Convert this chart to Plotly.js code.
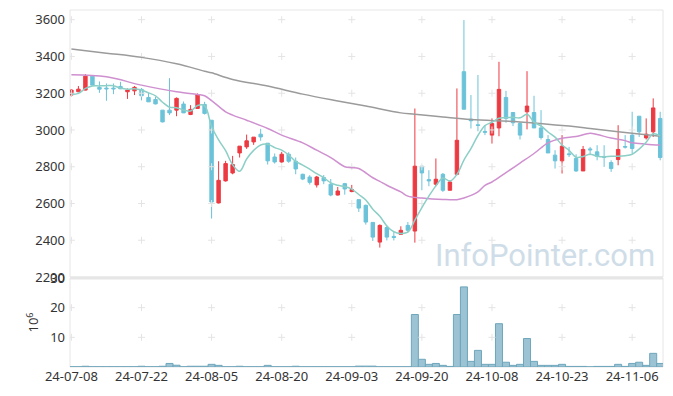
<!DOCTYPE html>
<html>
<head>
<meta charset="utf-8">
<script src="https://cdn.plot.ly/plotly-3.0.1.min.js"></script>
<style>html,body{margin:0;padding:0;background:#fff;}#chart{width:673px;height:396px;}</style>
</head>
<body>
<div id="chart"></div>
<script>
// ---- data ----
var dates = [
 '2024-07-08','2024-07-09','2024-07-10','2024-07-11','2024-07-12','2024-07-15','2024-07-16','2024-07-17','2024-07-18','2024-07-19',
 '2024-07-22','2024-07-23','2024-07-24','2024-07-25','2024-07-26','2024-07-29','2024-07-30','2024-07-31','2024-08-01','2024-08-02',
 '2024-08-05','2024-08-06','2024-08-07','2024-08-08','2024-08-09','2024-08-12','2024-08-13','2024-08-14','2024-08-16','2024-08-19',
 '2024-08-20','2024-08-21','2024-08-22','2024-08-23','2024-08-26','2024-08-27','2024-08-28','2024-08-29','2024-08-30','2024-09-02',
 '2024-09-03','2024-09-04','2024-09-05','2024-09-06','2024-09-09','2024-09-10','2024-09-11','2024-09-12','2024-09-13','2024-09-19',
 '2024-09-20','2024-09-23','2024-09-24','2024-09-25','2024-09-26','2024-09-27','2024-09-30','2024-10-02','2024-10-04','2024-10-07',
 '2024-10-08','2024-10-10','2024-10-11','2024-10-14','2024-10-15','2024-10-16','2024-10-17','2024-10-18','2024-10-21','2024-10-22',
 '2024-10-23','2024-10-24','2024-10-25','2024-10-28','2024-10-29','2024-10-30','2024-10-31','2024-11-01','2024-11-04','2024-11-05',
 '2024-11-06','2024-11-07','2024-11-08','2024-11-11','2024-11-12'
];
var openP = [3190,3208,3217,3293,3232,3228,3228,3237,3208,3213,
 3221,3177,3166,3108,3108,3108,3141,3084,3117,3139,
 3053,2603,2723,2766,2875,2908,2935,2977,2928,2853,
 2826,2868,2830,2759,2744,2701,2741,2705,2646,2708,
 2665,2621,2590,2497,2390,2469,2421,2432,2481,2450,
 2803,2730,2705,2759,2672,2759,3317,3059,3028,2992,
 2972,3011,3177,3095,3035,3099,3095,3011,2948,2863,
 2832,2870,2845,2777,2897,2881,2856,2823,2839,2910,
 2972,3075,2957,2990,3063];
var highP = [3222,3239,3304,3297,3264,3253,3253,3262,3226,3239,
 3228,3202,3180,3108,3282,3177,3155,3135,3199,3153,
 3053,2830,2832,2859,2912,2975,2961,3006,2928,2872,
 2881,2879,2850,2762,2754,2750,2755,2733,2690,2712,
 2701,2621,2594,2497,2486,2481,2445,2476,2499,3117,
 2803,2781,2845,2766,2726,3226,3598,3190,3299,3026,
 3063,3371,3213,3095,3044,3320,3186,3108,2972,2890,
 2972,2908,2868,2913,2908,2917,2917,2835,3026,2972,
 3099,3075,3063,3172,3099];
var lowP = [3182,3206,3215,3242,3202,3159,3195,3222,3169,3190,
 3161,3153,3139,3041,3081,3075,3093,3081,3117,3084,
 2518,2600,2719,2759,2850,2897,2919,2941,2812,2817,
 2822,2821,2759,2727,2703,2687,2705,2639,2643,2648,
 2661,2554,2485,2396,2360,2399,2399,2432,2445,2387,
 2672,2694,2694,2663,2672,2754,3113,3008,2993,2972,
 2926,2966,3039,3021,2948,3003,3011,2948,2875,2790,
 2763,2853,2772,2777,2863,2835,2799,2772,2808,2899,
 2872,2962,2948,2962,2835];
var closeP = [3217,3222,3293,3244,3222,3224,3224,3224,3217,3232,
 3186,3153,3142,3044,3093,3172,3093,3112,3193,3090,
 2608,2726,2817,2812,2912,2941,2961,2962,2832,2826,
 2868,2830,2788,2733,2715,2744,2723,2646,2668,2679,
 2676,2575,2499,2417,2481,2417,2415,2454,2454,2803,
 2766,2723,2732,2672,2717,2944,3113,3050,3025,2988,
 3035,3221,3063,3039,2972,3130,3011,2959,2875,2832,
 2912,2866,2777,2894,2892,2857,2852,2790,2894,2907,
 2899,2990,2977,3120,2850];
// volume, millions of shares
var volume = [0.08,0.08,0.25,0.08,0.08,0.08,0.08,0.08,0.08,0.08,
 0.25,0.08,0.08,0.25,1.2,0.6,0.08,0.25,0.25,0.25,
 0.9,0.55,0.08,0.08,0.25,0.08,0.08,0.08,0.55,0.08,
 0.08,0.08,0.25,0.08,0.08,0.08,0.08,0.08,0.08,0.08,
 0.08,0.3,0.3,0.3,0.08,0.08,0.08,0.08,0.08,17.7,
 2.6,0.9,1.2,0.55,0.2,17.7,27.0,1.9,5.6,0.9,
 0.9,14.6,1.6,0.55,0.9,9.6,1.9,0.55,0.55,0.55,
 0.9,0.2,0.2,0.2,0.05,0.2,0.2,0.2,0.9,0.2,
 1.2,1.6,0.55,4.6,1.2];
// 5-day moving average line (teal)
var ma5 = [3193,3199,3226,3239,3240,3241,3241,3228,3222,3224,
 3217,3202,3186,3151,3124,3121,3109,3103,3133,3132,
 3019,2946,2887,2811,2775,2842,2889,2918,2922,2904,
 2890,2864,2829,2809,2787,2762,2741,2712,2699,2692,
 2678,2649,2619,2569,2530,2478,2446,2437,2444,2509,
 2578,2640,2696,2739,2722,2758,2836,2899,2970,3024,
 3042,3064,3066,3069,3066,3085,3043,3022,2989,2961,
 2918,2889,2852,2856,2868,2857,2854,2857,2857,2860,
 2868,2896,2933,2979,2967];
// 20-day moving average (pink), read at these dates
var ma20Dates = ['2024-07-08','2024-07-15','2024-07-22','2024-07-29','2024-08-01','2024-08-02','2024-08-05','2024-08-07','2024-08-08',
 '2024-08-12','2024-08-16','2024-08-20','2024-08-23','2024-08-27','2024-08-29','2024-09-02','2024-09-03','2024-09-04','2024-09-06',
 '2024-09-09','2024-09-10','2024-09-12','2024-09-13','2024-09-20','2024-09-25','2024-09-27','2024-09-30','2024-10-04','2024-10-07',
 '2024-10-08','2024-10-11','2024-10-15','2024-10-17','2024-10-21','2024-10-23','2024-10-25','2024-10-29','2024-10-30','2024-11-01',
 '2024-11-05','2024-11-06','2024-11-08','2024-11-12'];
var ma20 = [3300,3289,3244,3208,3193,3186,3160,3099,3081,
 3053,3008,2972,2930,2890,2850,2800,2795,2790,2740,
 2720,2699,2663,2640,2630,2622,2621,2630,2663,2699,
 2717,2768,2820,2872,2930,2955,2964,2982,2975,2956,
 2942,2930,2923,2918];
// long moving average (grey), read at these dates
var maLongDates = ['2024-07-08','2024-07-15','2024-07-22','2024-07-29','2024-08-02','2024-08-05','2024-08-08','2024-08-16',
 '2024-08-23','2024-08-30','2024-09-05','2024-09-12','2024-09-19','2024-09-25','2024-10-02','2024-10-15','2024-10-24',
 '2024-10-29','2024-11-04','2024-11-12'];
var maLong = [3440,3418,3395,3360,3320,3311,3275,3239,
 3195,3158,3130,3093,3086,3071,3057,3044,3021,
 3008,2990,2966];
var tickDates = ['2024-07-08','2024-07-22','2024-08-05','2024-08-20','2024-09-03','2024-09-20','2024-10-08','2024-10-23','2024-11-06'];
var tickLabels = ['24-07-08','24-07-22','24-08-05','24-08-20','24-09-03','24-09-20','24-10-08','24-10-23','24-11-06'];
var priceTicks = [2200,2400,2600,2800,3000,3200,3400,3600];
var volTicks = [10,20,30];

// ---- grid crosses built from the tick arrays ----
var gx = [], gy = [], vx = [], vy = [];
tickDates.forEach(function(d){
  priceTicks.forEach(function(p){ if (p > 2200) { gx.push(d); gy.push(p); } });
  volTicks.forEach(function(v){ if (v < 30) { vx.push(d); vy.push(v); } });
});

var FONT = '"Noto Sans", "Open Sans", sans-serif';
var CROSS = {symbol:'cross-thin', size:5, line:{color:'#e4e4e4', width:1}};
var traces = [
 {type:'candlestick', x:dates, open:openP, high:highP, low:lowP, close:closeP,
  xaxis:'x', yaxis:'y', whiskerwidth:0,
  increasing:{line:{color:'#ec3a42', width:1}, fillcolor:'#ec3a42'},
  decreasing:{line:{color:'#6cc3d9', width:1}, fillcolor:'#6cc3d9'},
  hoverinfo:'skip'},
 {type:'scatter', mode:'markers', x:gx, y:gy, xaxis:'x', yaxis:'y', hoverinfo:'skip', marker:CROSS},
 {type:'scatter', mode:'markers', x:vx, y:vy, xaxis:'x', yaxis:'y2', hoverinfo:'skip', marker:CROSS},
 {type:'scatter', mode:'lines', x:maLongDates, y:maLong, xaxis:'x', yaxis:'y',
  line:{color:'#9b9b9b', width:1.5, shape:'spline'}, hoverinfo:'skip'},
 {type:'scatter', mode:'lines', x:ma20Dates, y:ma20, xaxis:'x', yaxis:'y',
  line:{color:'#cf90cf', width:1.5, shape:'spline'}, hoverinfo:'skip'},
 {type:'scatter', mode:'lines', x:dates, y:ma5, xaxis:'x', yaxis:'y',
  line:{color:'#8ccfc6', width:1.5, shape:'spline'}, hoverinfo:'skip'},
 {type:'bar', x:dates, y:volume, xaxis:'x', yaxis:'y2',
  marker:{color:'#9bc3d3', line:{color:'#6fa6bc', width:1}}, hoverinfo:'skip'}
];

var layout = {
  width:673, height:396,
  margin:{l:70, r:10, t:10, b:29, pad:0},
  paper_bgcolor:'#ffffff', plot_bgcolor:'#ffffff',
  showlegend:false, hovermode:false, bargap:0,
  font:{family:FONT, size:13, color:'#333333'},
  xaxis:{type:'category', anchor:'y2', range:[-0.2, 84.4], tickvals:tickDates, ticktext:tickLabels,
    showgrid:false, zeroline:false, showline:false, ticks:'', rangeslider:{visible:false},
    tickfont:{family:FONT, size:13, color:'#333333'}},
  yaxis:{domain:[0.2521, 1], range:[2200, 3652.8], tickvals:priceTicks, showgrid:false, zeroline:false,
    showline:false, ticks:'', ticklabelstandoff:4, tickfont:{family:FONT, size:13, color:'#333333'}},
  yaxis2:{domain:[0, 0.2493], range:[0, 30], tickvals:volTicks, showgrid:false, zeroline:false,
    showline:false, ticks:'', ticklabelstandoff:4, tickfont:{family:FONT, size:13, color:'#333333'},
    title:{text:'10<sup>6</sup>', font:{family:FONT, size:13, color:'#333333'}, standoff:8}},
  shapes:[
    {type:'rect', xref:'paper', yref:'paper', x0:0, x1:1, y0:0.2521, y1:1, line:{color:'#e6e6e6', width:1}, layer:'below'},
    {type:'rect', xref:'paper', yref:'paper', x0:0, x1:1, y0:0, y1:0.2493, line:{color:'#e6e6e6', width:1}, layer:'below'},
    {type:'rect', xref:'paper', yref:'paper', x0:0, x1:1, y0:0.2451, y1:0.2535, fillcolor:'#e6e6e6', line:{width:0}, layer:'above'}
  ],
  annotations:[
    {text:'InfoPointer.com', xref:'paper', yref:'paper', x:0.801, y:0.311, showarrow:false,
     xanchor:'center', yanchor:'middle', font:{family:'Roboto, "Open Sans", sans-serif', size:31, color:'#cfdde8'}}
  ]
};

Plotly.newPlot('chart', traces, layout, {displayModeBar:false, staticPlot:true});
</script>
</body>
</html>
